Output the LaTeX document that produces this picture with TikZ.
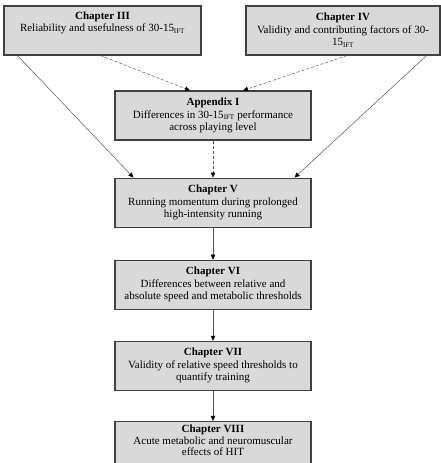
\documentclass[tikz,border=0pt]{standalone}
\usepackage{fontspec}
\setmainfont{Liberation Serif}
\usepackage{xcolor}
\usetikzlibrary{positioning,arrows.meta,calc}
\definecolor{cBox}{HTML}{D9D9D9}
\definecolor{cEdge}{HTML}{404040}
\definecolor{cLine}{HTML}{555555}
\newcommand{\ift}{\textsubscript{\scriptsize IFT}}

\begin{document}
\begin{tikzpicture}[x=1pt,y=-1pt,node distance=32pt,
  font=\fontsize{11}{12.5}\selectfont,
  chap/.style={draw=cEdge,fill=cBox,line width=1.1pt,align=center,
               minimum width=196pt,minimum height=49pt,inner sep=2pt},
  ar/.style={-{Triangle[length=5pt,width=4.5pt,color=black]},line width=0.5pt,draw=cLine},
  dar/.style={ar,densely dashed}]
\useasboundingbox (0,0) rectangle (441,463);

\node[chap,minimum width=197pt] (ch3) at (102.5,30.5)
  {\textbf{Chapter III}\\ Reliability and usefulness of 30-15\ift\\[5pt]};
\node[chap,minimum width=194pt] (ch4) at (343,30.5)
  {\textbf{Chapter IV}\\ Validity and contributing factors of 30-\\ 15\ift};

\node[chap] (app) at (213,115.5)
  {\textbf{Appendix I}\\ Differences in 30-15\ift{} performance\\ across playing level};
\node[chap,below=37pt of app] (ch5)
  {\textbf{Chapter V}\\ Running momentum during prolonged\\ high-intensity running};
\node[chap,below=of ch5] (ch6)
  {\textbf{Chapter VI}\\ Differences between relative and\\ absolute speed and metabolic thresholds};
\node[chap,below=31pt of ch6] (ch7)
  {\textbf{Chapter VII}\\ Validity of relative speed thresholds to\\ quantify training};
\node[chap,below=30pt of ch7,font=\fontsize{11}{11.5}\selectfont] (ch8)
  {\textbf{Chapter VIII}\\ Acute metabolic and neuromuscular\\ effects of HIT\\[-1pt]};

% links from the two top studies
\draw[ar] ([xshift=14pt]ch3.south west) -- ([xshift=19pt]ch5.north west);
\draw[dar] ([xshift=-2pt]ch3.south) -- ([xshift=-23pt]app.north);
\draw[dar] ([xshift=4pt]ch4.south) -- ([xshift=30pt]app.north);
\draw[ar] ([xshift=-14pt]ch4.south east) -- ([xshift=-17pt]ch5.north east);

% main chain
\draw[dar] (app) -- (ch5);
\draw[ar] (ch5) -- (ch6);
\draw[ar] (ch6) -- (ch7);
\draw[ar] (ch7) -- (ch8);
\end{tikzpicture}
\end{document}
